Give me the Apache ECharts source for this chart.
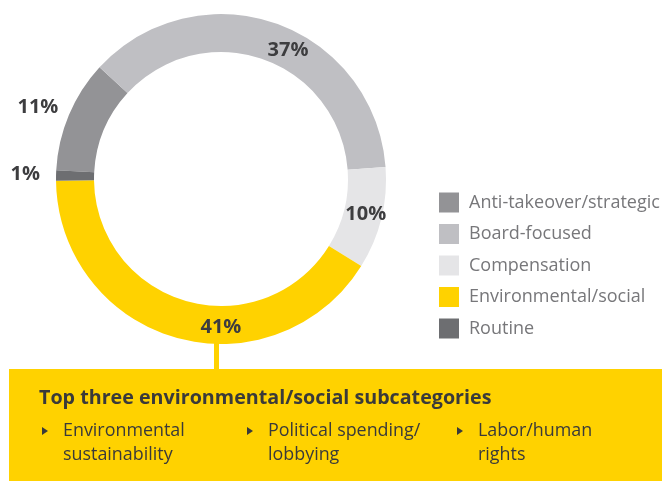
<!DOCTYPE html>
<html><head><meta charset="utf-8">
<script src="https://cdn.jsdelivr.net/npm/echarts@6/dist/echarts.min.js"></script>
<style>html,body{margin:0;padding:0;background:#fff}#c{width:662px;height:482px}</style>
</head><body><div id="c"></div>
<script>
const categories = ['Anti-takeover/strategic','Board-focused','Compensation','Environmental/social','Routine'];
const values = [11, 37, 10, 41, 1];
const colors = ['#939396','#bfbfc3','#e5e5e7','#ffd200','#6d6e71'];
const subTitle = 'Top three environmental/social subcategories';
const subItems = [['Environmental','sustainability'],['Political spending/','lobbying'],['Labor/human','rights']];

const FONT = 'Open Sans';
const chart = echarts.init(document.getElementById('c'));
const outsideIdx = [0, 4];
// label nudges (style only)
const labelShift = [[0,-5],[18,12],[0,0],[40,5],[-5,-1]];
const data = categories.map((n,i)=>({
  name:n, value:values[i], itemStyle:{color:colors[i]},
  label: outsideIdx.includes(i) ? {position:'outside'} : {position:'inside'},
  labelLine:{show:false, length:6, length2:0}
}));
const g = [
  {type:'rect', shape:{x:9,y:369,width:660,height:112}, style:{fill:'#ffd200'}},
  {type:'rect', shape:{x:214,y:335,width:5,height:36}, style:{fill:'#ffd200'}, z:-1},
  {type:'text', x:39, y:398, style:{text:subTitle, fill:'#3a3a3a', font:'bold 19.7px "'+FONT+'"', textVerticalAlign:'middle'}}
];
const colX = [42, 247, 457];
subItems.forEach((lines,i)=>{
  g.push({type:'polygon', shape:{points:[[colX[i],427],[colX[i]+6,431],[colX[i],435]]}, style:{fill:'#3a3a3a'}});
  lines.forEach((t,j)=>{
    g.push({type:'text', x:colX[i]+21, y:431+j*24, style:{text:t, fill:'#3a3a3a', font:'17.9px "'+FONT+'"', textVerticalAlign:'middle'}});
  });
});
chart.setOption({
  animation:false,
  textStyle:{fontFamily:FONT},
  legend:{
    orient:'vertical', left:434, top:187.5, itemWidth:20, itemGap:11.5, itemHeight:20,
    icon:'rect', data:categories,
    textStyle:{color:'#77777a', fontSize:18, fontFamily:FONT, padding:[0,0,0,5]}
  },
  graphic:g,
  series:[{
    type:'pie', center:[221,179], radius:[127,165], startAngle:177, clockwise:true,
    avoidLabelOverlap:false,
    label:{show:true, formatter:'{c}%', color:'#3d3d3f', fontSize:20, fontWeight:'bold', fontFamily:FONT},
    labelLayout:function(p){ const s = labelShift[p.dataIndex]; return {dx:s[0], dy:s[1]}; },
    emphasis:{disabled:true},
    data:data, z:2
  }]
});
</script></body></html>
